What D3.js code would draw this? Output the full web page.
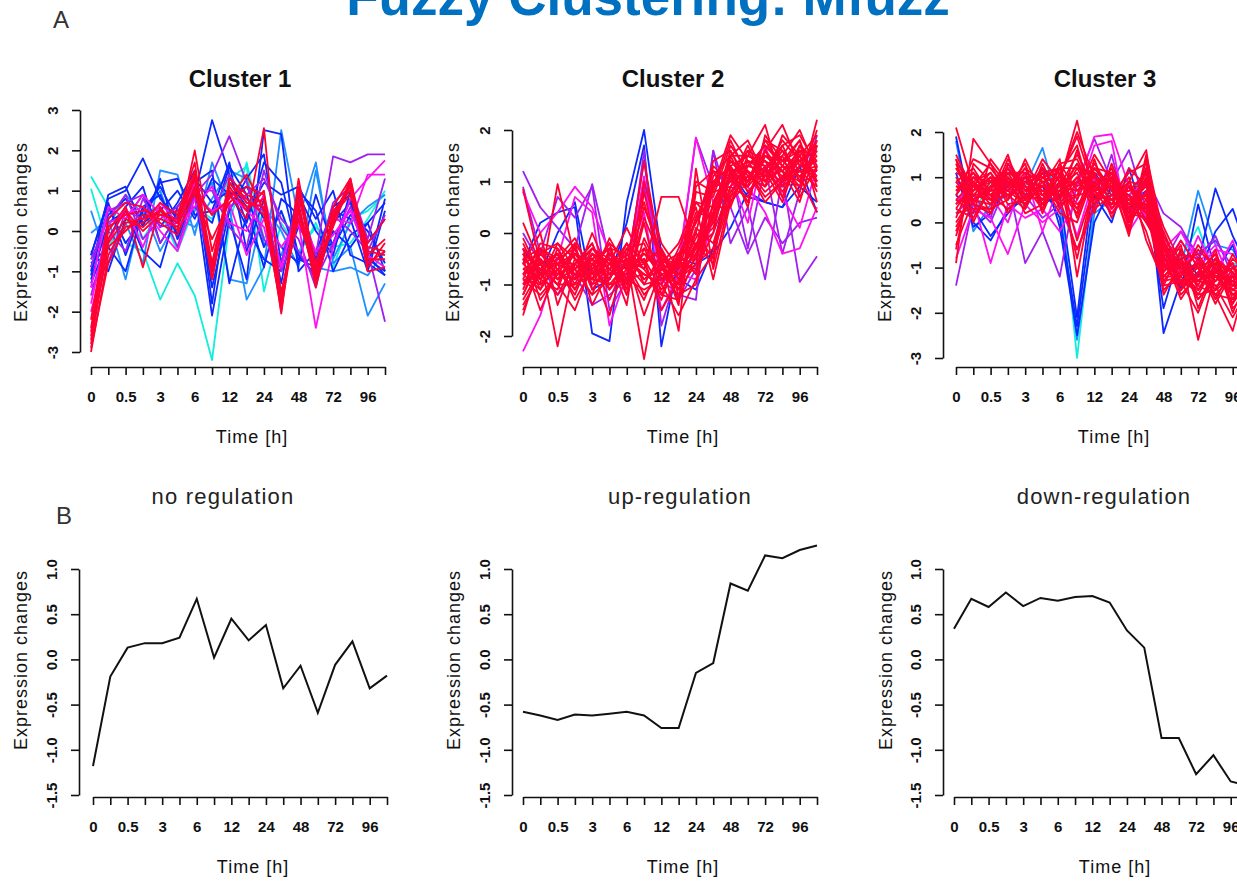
<!DOCTYPE html>
<html>
<head>
<meta charset="utf-8">
<script src="https://cdn.jsdelivr.net/npm/d3@7"></script>
<style>
  body { margin: 0; background: #fff; }
  svg { display: block; font-family: "Liberation Sans", Arial, sans-serif; }
  .axis path, .axis line { stroke: #111; stroke-width: 1.6; }
  .axis text { font-size: 15px; fill: #111; font-weight: bold; font-family: "Liberation Sans", Arial, sans-serif; }
  .profile { fill: none; stroke-width: 1.8; stroke-linejoin: round; }
  .centroid { fill: none; stroke: #111; stroke-width: 2; }
  .axis-title { font-size: 18px; fill: #111; letter-spacing: 1px; }
</style>
</head>
<body>
<svg id="chart" width="1237" height="882"></svg>
<script>
// tick labels, only every other time point is labelled in the original
const timeLabels = ["0", "", "0.5", "", "3", "", "6", "", "12", "", "24", "", "48", "", "72", "", "96", ""];

const clusterTitles = ["Cluster 1", "Cluster 2", "Cluster 3"];
const centroidTitles = ["no regulation", "up-regulation", "down-regulation"];

// membership -> colour (cyan = weak member, red = strong member)
const membershipLevels = [0.3, 0.4, 0.5, 0.6, 0.7, 0.8];
const membershipColors = ["#10EEDC", "#1E90FF", "#0A28FF", "#A020F0", "#FF10F0", "#FF0033"];

const cluster1Membership = [0.3, 0.3, 0.4, 0.4, 0.4, 0.5, 0.5, 0.5, 0.5, 0.5, 0.5, 0.6, 0.6, 0.6, 0.6, 0.7, 0.7, 0.7, 0.8, 0.8, 0.8, 0.8, 0.8, 0.8, 0.8, 0.8, 0.5, 0.5, 0.5];
const cluster1Profiles = [
  [1.35, 0.6, -0.3, -0.5, -1.7, -0.8, -1.6, -3.2, 0.2, 1.7, -0.2, 0.5, -0.6, 0.2, -0.9, 0.3, 0.5, 0.9],
  [1.05, -0.4, 0.3, -0.2, 0.5, -0.5, 0.6, 0.3, 1.3, 1.6, -1.5, 0.2, -0.5, 0.1, -0.4, -0.3, 0.3, 1.0],
  [0.5, -0.8, 0.2, -0.8, 1.5, 1.4, -0.1, 1.7, 0.6, -1.7, -0.9, 2.5, 0.3, 1.7, -0.8, -0.4, -2.1, -1.3],
  [-0.05, 0.3, -1.2, 0.6, -0.5, 0.3, 0.1, 0.8, 1.5, 1.3, -0.3, -0.6, 0.6, -0.9, -1.0, -0.9, -1.1, -0.5],
  [-0.7, 0.1, 0.9, 0.4, 1.0, -0.2, 0.5, 1.2, -1.2, -1.3, 0.6, 0.0, -0.9, 1.5, -0.7, 0.2, 0.6, 0.9],
  [-0.6, 0.8, 1.0, 1.8, 0.8, 0.3, 1.3, 0.7, 1.0, 0.1, -0.7, -1.0, 0.1, -0.5, -0.3, 0.8, -0.7, -1.0],
  [-1.0, 0.9, 1.1, 0.1, 1.3, -0.2, 0.9, 2.75, 1.4, 0.2, 1.7, 1.2, -0.6, -1.1, 0.0, -0.4, 0.2, 0.7],
  [-0.8, -0.4, -1.0, 0.5, 1.1, 0.3, 1.0, -2.1, 0.3, -1.2, 2.5, 2.4, -1.0, -0.5, 0.5, 0.3, -1.0, 0.5],
  [-1.2, 0.2, 0.5, -0.5, -0.9, 0.6, 1.2, 1.5, -1.3, 0.4, 1.2, 0.9, 1.1, 0.3, 1.0, -0.6, -0.8, -1.1],
  [-0.5, -1.0, 0.3, 0.9, 0.1, 0.7, 1.5, -1.8, 1.2, 0.6, -0.9, 0.8, 0.4, -0.7, 0.6, 0.9, -0.9, 0.8],
  [-1.1, 0.6, -0.3, 0.3, 1.2, 1.3, 0.4, 0.5, 1.7, -0.5, 0.8, -1.3, 1.0, 0.5, -1.0, -0.1, 0.2, -1.0],
  [-0.9, 0.5, 0.7, 0.9, -0.3, 0.4, 0.9, 1.4, 2.35, 1.2, -0.2, -0.8, 0.8, -0.6, 1.85, 1.7, 1.9, 1.9],
  [-1.4, -0.8, 0.5, 0.3, 0.6, -0.4, 1.0, 1.0, 0.1, -0.4, 1.5, 0.1, -0.5, -1.2, -0.3, 0.6, -0.5, -2.25],
  [-0.7, 0.3, 0.9, -0.2, 0.3, 0.6, 1.1, 0.4, 1.4, 0.7, 0.5, -1.0, 0.2, -0.8, 0.7, 1.1, -0.2, 1.3],
  [-1.6, 0.0, -0.5, 0.8, 0.1, 0.2, 0.8, -1.0, 0.6, 0.9, 1.3, 0.3, -0.2, -1.4, 0.4, 0.0, -0.5, 0.4],
  [-1.8, 0.2, 0.4, 0.6, 0.0, -0.5, 0.8, 0.5, 0.7, -0.6, 0.3, -0.4, 0.2, -2.4, -0.4, 0.8, 1.3, 1.75],
  [-1.4, 0.6, 0.3, 0.9, 0.4, 0.1, 0.6, 1.1, 0.2, 0.0, 0.9, -0.9, 0.6, -1.1, 0.3, 0.2, 1.4, 1.4],
  [-2.0, -0.3, 0.6, -0.4, 0.7, 0.2, 1.2, -0.8, 0.9, 0.5, 0.1, -1.6, 0.4, -0.5, -0.1, 0.5, -0.6, -0.9],
  [-3.0, -0.6, 0.2, 0.3, 0.5, 0.2, 1.3, -1.2, 1.0, 0.6, 0.8, -1.9, 1.0, -1.2, 0.4, 1.2, -0.8, -0.5],
  [-2.8, -0.2, 0.5, 0.0, 0.4, 0.3, 1.5, -0.8, 1.2, 0.7, 0.6, -2.0, 1.3, -1.0, 0.3, 1.1, -0.5, -0.6],
  [-2.5, 0.0, 0.6, -0.9, 0.6, 0.0, 2.0, -0.5, 0.9, 0.3, 2.55, -1.7, 0.5, -1.3, 0.2, 1.3, -0.9, -0.3],
  [-2.6, -0.4, 0.0, 0.4, 0.3, 0.1, 1.1, -1.0, 1.3, 0.9, 0.7, -1.8, 0.9, -0.8, 0.5, 1.0, -0.3, 0.3],
  [-2.2, 0.3, 0.7, 0.6, 0.2, -0.1, 1.0, 0.4, 0.8, 1.4, 0.5, -1.5, 0.3, -1.1, 0.1, 1.2, -1.0, -0.9],
  [-2.9, -0.8, 0.1, 0.2, 0.7, 0.4, 1.7, -1.2, 1.1, 0.5, 1.0, -2.05, 1.1, -0.9, 0.6, 1.3, -0.6, -0.2],
  [-2.4, 0.1, 0.4, 0.5, 0.4, 0.5, 0.9, -0.2, 0.7, 1.1, 0.9, -1.6, 0.7, -1.4, 0.4, 0.9, -0.7, -0.7],
  [-2.7, -0.3, 0.3, 0.1, 0.5, 0.2, 1.4, -0.9, 1.2, 0.8, 0.4, -1.9, 0.6, -1.2, 0.3, 1.15, -0.4, -0.5],
  [-0.9, 0.4, 0.8, 0.2, 0.5, 1.0, 0.3, 1.3, 0.9, 1.1, 0.3, -0.4, -0.8, 0.9, -0.4, 0.4, 0.0, -0.8],
  [-1.3, -0.2, 0.6, 1.1, -0.3, 0.4, 0.6, 0.2, 1.6, 0.9, -0.4, 0.5, -0.7, -0.9, 0.2, 0.7, -0.6, -1.1],
  [-0.6, 0.7, -0.6, 0.6, 0.9, -0.1, 1.1, -1.4, 0.5, 1.3, 1.9, -0.8, 0.9, 0.0, -0.6, 1.0, -0.3, 0.3]
];

const cluster2Membership = [0.5, 0.5, 0.6, 0.6, 0.6, 0.7, 0.7, 0.8, 0.8, 0.8, 0.8, 0.8, 0.8, 0.8, 0.8, 0.8, 0.8, 0.8, 0.8, 0.8, 0.8, 0.8, 0.8, 0.8, 0.8, 0.8, 0.8, 0.8, 0.8, 0.8, 0.8, 0.8, 0.8, 0.8, 0.8, 0.8, 0.8, 0.8, 0.8];
const cluster2Profiles = [
  [-0.6, 0.2, 0.4, 0.5, -1.95, -2.1, 0.6, 2.0, -0.4, -0.9, -1.1, -0.3, 1.2, 0.7, 0.6, 0.5, 1.3, 0.4],
  [-0.3, -0.8, 0.0, 0.6, -1.1, -0.9, 0.2, 1.7, -2.2, -0.5, -0.6, -0.4, 0.1, 0.8, 0.6, 0.5, 0.9, 0.6],
  [1.2, 0.5, 0.1, -0.3, 0.95, -0.5, -0.7, 1.4, -0.9, -1.2, -1.3, 1.6, -0.2, 0.5, -0.9, 1.1, -0.95, -0.45],
  [0.9, -0.4, 0.7, 0.3, 0.9, -1.5, -0.9, 1.6, -1.8, -0.7, 1.85, 0.9, 1.3, -0.3, 1.3, -0.4, 0.8, 1.9],
  [0.0, -0.6, -1.2, -0.8, -1.4, -1.2, -0.9, 0.9, -0.6, -1.3, -0.7, 1.6, 0.5, -0.4, 0.3, -0.2, 0.2, 0.3],
  [-2.3, -1.6, -0.5, 0.7, 0.4, -1.8, -0.8, 1.1, -1.0, -0.6, 1.85, 0.6, 1.1, 0.2, 1.7, 0.7, 0.1, 1.3],
  [0.8, 0.0, 0.4, 0.9, 0.5, -0.4, -0.6, 0.4, -1.5, -0.8, -0.9, 0.3, 1.2, 0.9, 0.4, -0.4, -0.3, 0.5],
  [-0.5, -0.8, -0.6, -0.4, -0.7, -0.5, -0.6, -0.3, -0.9, -0.8, -0.2, 0.1, 1.2, 1.0, 1.5, 1.4, 1.6, 1.5],
  [-0.8, -0.3, -0.9, -0.7, -0.5, -0.8, -0.4, -0.9, -0.7, -1.0, 0.1, -0.2, 0.9, 1.3, 1.2, 1.0, 1.4, 1.7],
  [0.85, -0.6, -0.4, -1.0, -0.3, -0.6, -0.9, -0.5, -1.1, -0.6, -0.5, 0.4, 1.5, 0.8, 1.1, 1.6, 1.2, 1.3],
  [-1.2, -0.5, -2.2, -0.6, -0.9, -0.4, -0.7, 1.4, -0.5, -1.9, 1.25, -0.7, 0.7, 1.1, 1.4, 1.2, 1.0, 1.1],
  [-0.4, -1.0, 0.95, -0.5, -0.8, -0.2, -0.5, -2.45, -0.6, -0.4, -0.8, 0.9, 1.9, 1.4, 0.9, 1.3, 1.8, 0.6],
  [-0.6, -0.4, -0.7, -1.2, -0.4, -0.9, -0.3, -0.7, 0.7, 0.7, -0.3, 0.2, 1.1, 0.6, 1.6, 2.1, 1.3, 1.4],
  [-1.5, -0.7, -0.5, -0.3, -1.1, -0.6, -0.8, -0.4, -0.8, -0.7, 0.3, 1.0, 1.3, 1.5, 2.1, 0.9, 1.5, 1.9],
  [-0.3, -1.3, -0.8, -0.6, -0.2, -1.0, -0.6, -1.0, -0.4, -0.9, -0.6, -0.3, 0.8, 1.2, 0.8, 1.1, 0.9, 2.2],
  [-0.9, -0.2, -0.3, -0.9, -0.6, -0.3, -1.1, 0.2, -1.2, -0.5, 0.0, 1.4, 1.6, 0.9, 1.3, 0.7, 1.7, 1.0],
  [-0.7, -0.9, -1.1, -0.2, -1.4, -0.7, -0.2, -0.6, -0.3, -1.2, -1.0, 0.6, 1.0, 1.7, 1.0, 1.5, 2.0, 1.2],
  [0.2, -0.6, -0.6, -0.8, -0.5, -1.3, -0.5, -0.8, -1.0, -0.3, 0.5, -0.9, 0.6, 1.3, 1.7, 1.3, 1.1, 0.4],
  [-1.0, -0.4, -0.2, -0.7, -0.3, -0.5, -1.4, 0.8, -0.7, -0.8, -0.4, 0.3, 1.4, 1.0, 1.2, 1.8, 1.4, 1.6],
  [-0.5, -1.5, -0.7, -0.4, -0.9, -0.1, -0.7, -1.3, -0.5, -1.4, 0.8, 0.7, 1.7, 1.2, 0.6, 1.0, 1.2, 0.9],
  [-1.3, -0.7, -1.0, -1.5, -0.6, -0.9, -0.3, -0.2, -0.9, -0.6, -0.7, 0.0, 0.9, 0.7, 1.5, 1.2, 0.8, 1.8],
  [-0.2, -0.9, -0.5, -0.1, -0.8, -0.6, 0.1, -0.6, -1.3, -0.4, 0.2, 1.2, 1.1, 1.6, 1.0, 1.7, 1.9, 1.3],
  [-0.8, -1.1, -0.3, -0.9, 0.0, -0.8, -0.8, 0.5, -0.4, -1.1, -0.2, -0.6, 1.3, 0.5, 1.9, 1.4, 1.1, 1.5],
  [-0.6, 0.0, -1.4, -0.5, -0.7, -1.6, -0.4, -0.9, -0.6, -0.2, 0.6, 0.5, 0.5, 1.4, 1.2, 0.6, 1.6, 1.0],
  [-1.6, -0.5, -0.9, -0.7, -1.2, -0.3, -0.9, -0.5, -1.5, -0.9, -0.5, 1.3, 1.0, 0.9, 1.8, 1.6, 1.0, 2.0],
  [-0.4, -0.7, -0.4, -1.1, -0.4, -0.7, -1.0, 1.0, -0.2, -0.7, 1.0, 0.8, 1.8, 1.1, 0.9, 1.9, 1.5, 0.8],
  [-0.9, -1.2, -0.8, -0.3, -1.0, -0.4, -0.6, -0.8, -1.0, -1.6, -0.9, -0.4, 0.7, 1.5, 1.3, 0.8, 1.3, 1.2],
  [-0.1, -0.8, -1.2, -0.6, -0.2, -1.1, -0.5, -1.6, -0.7, -0.5, 0.4, 0.3, 1.2, 0.6, 1.6, 1.2, 0.6, 1.7],
  [-1.1, -0.3, -0.6, -1.3, -0.7, -0.2, -1.2, -0.1, -0.8, -1.0, -0.3, 1.1, 1.5, 1.8, 1.1, 1.4, 1.8, 0.9],
  [-0.7, -0.5, -0.9, -0.4, -0.6, -1.1, -0.7, -0.4, -0.6, -0.8, -0.1, 0.5, 1.4, 1.2, 1.0, 1.3, 1.2, 1.4],
  [-1.0, -0.8, -0.4, -0.8, -0.9, -0.5, -0.9, -1.1, -0.9, -0.5, 0.2, 0.8, 0.9, 1.6, 1.4, 1.1, 1.5, 1.1],
  [-0.4, -1.1, -0.6, -0.6, -0.3, -0.7, -0.5, -0.7, -1.2, -1.3, -0.4, 0.4, 1.6, 1.0, 1.6, 1.0, 1.3, 1.8],
  [-0.8, -0.6, -1.0, -1.0, -0.8, -0.4, -1.0, 0.3, -0.5, -0.6, 0.6, 0.2, 1.1, 1.4, 1.3, 1.5, 0.7, 1.3],
  [-0.6, -0.9, -0.2, -0.5, -1.0, -0.8, -0.6, -1.2, -0.8, -1.1, -0.6, 1.0, 0.8, 1.1, 1.1, 1.2, 1.6, 1.5],
  [-1.2, -0.4, -0.8, -0.9, -0.4, -0.6, -0.7, -0.6, -0.3, -0.9, 0.0, -0.5, 1.2, 1.3, 1.7, 1.4, 1.4, 1.0],
  [-0.3, -0.7, -1.0, -0.3, -0.9, -1.0, -0.9, -0.8, -1.0, -0.4, -0.8, 0.6, 1.3, 0.8, 1.2, 1.7, 1.0, 1.6],
  [-0.9, -1.0, -0.7, -1.1, -0.5, -0.3, -0.4, 0.6, -0.6, -1.0, 0.3, 0.9, 1.0, 1.2, 0.7, 1.0, 1.7, 1.4],
  [-0.5, -0.3, -0.5, -0.7, -1.2, -0.9, -0.2, -1.0, -0.9, -0.7, -0.3, 0.0, 1.5, 1.5, 1.4, 0.9, 1.2, 1.2],
  [-1.4, -0.8, -0.6, -0.2, -0.7, -0.5, -1.2, -0.3, -0.5, -1.3, 0.9, 1.2, 0.6, 1.0, 1.8, 1.3, 0.9, 1.7]
];

const cluster3Membership = [0.3, 0.4, 0.5, 0.5, 0.5, 0.6, 0.6, 0.7, 0.7, 0.7, 0.8, 0.8, 0.8, 0.8, 0.8, 0.8, 0.8, 0.8, 0.8, 0.8, 0.8, 0.8, 0.8, 0.8, 0.8, 0.8, 0.8, 0.8, 0.8, 0.8, 0.8, 0.8, 0.8, 0.8, 0.8, 0.8, 0.8, 0.8, 0.8, 0.8, 0.8, 0.8];
const cluster3Profiles = [
  [1.0, 0.2, 0.9, 1.1, 0.3, 1.0, 0.8, -3.0, 0.4, 0.7, 0.2, 0.9, -0.5, -0.8, -0.1, -1.2, -0.9, -1.0],
  [1.8, -0.2, 0.4, 0.6, 0.8, 1.65, 0.3, -2.6, 0.2, 0.5, 0.6, 1.1, -0.3, -1.0, 0.7, -0.5, -0.6, -1.3],
  [1.9, 0.0, -0.4, 0.3, 0.5, 1.2, -0.1, -2.5, 0.0, 0.8, 0.2, 1.2, -2.45, -1.3, -0.9, 0.75, -0.3, -1.1],
  [1.1, -0.1, 0.2, 0.8, 1.0, 0.4, 0.6, -2.1, 1.1, 0.6, 0.4, 0.7, -1.9, -0.6, -1.2, -0.2, 0.3, -0.8],
  [0.6, 0.3, -0.3, 0.2, 0.6, 0.8, 0.1, -2.3, 0.6, 0.0, 1.2, 0.0, -0.4, -1.5, 0.4, -1.1, -0.5, -1.6],
  [-1.4, 0.4, 0.0, 0.9, -0.9, -0.2, -1.2, 0.9, 1.85, 0.9, 1.6, 0.3, -0.9, -0.2, -0.7, -0.4, -1.0, -0.8],
  [0.2, 0.6, 0.1, 1.3, 0.6, 0.1, 0.4, -0.6, 0.3, 1.5, 0.0, 1.0, 0.2, -0.1, -0.8, -0.3, -1.2, -1.1],
  [-0.8, 0.3, 0.1, -0.7, 0.4, 0.0, 0.3, 0.8, 1.9, 1.95, 0.8, 0.1, -0.6, -0.2, -0.9, -0.5, -1.4, -0.9],
  [0.9, 0.5, -0.9, 0.4, 0.1, 0.3, -0.2, 0.5, 1.7, 1.8, -0.2, 0.4, -1.1, -0.4, -1.0, -0.6, -0.7, -1.3],
  [0.4, 1.0, 0.6, 0.0, 1.1, -0.2, 0.9, -0.3, 1.0, 0.2, 0.6, 0.9, -0.4, -1.2, -0.3, -1.1, -0.4, -1.6],
  [2.1, 0.8, 0.5, 1.4, 0.7, 1.2, 0.9, 2.25, 0.6, 0.5, 0.9, 1.6, -0.8, -1.0, -1.2, -0.9, -1.5, -1.3],
  [-0.9, 1.85, 1.3, 0.5, 1.0, 0.5, 1.3, 0.7, 1.2, 0.8, 0.4, 0.3, -1.0, -0.7, -2.6, -1.1, -1.3, -1.8],
  [0.5, 0.2, 1.4, 0.9, 0.4, 0.8, 1.4, -1.2, 0.9, 1.1, 0.0, 1.0, -0.5, -1.3, -1.0, -1.6, -2.4, -1.0],
  [0.8, 0.6, 0.7, 1.5, 0.3, 1.3, 0.5, 1.6, 0.4, 0.9, 0.6, -0.2, -1.4, -0.6, -1.5, -0.8, -1.1, -1.6],
  [0.1, 1.0, 0.9, 0.6, 0.8, 0.6, 0.7, 0.2, 1.4, 0.3, 0.8, 0.5, -0.2, -1.1, -0.9, -1.7, -1.0, -1.2],
  [1.3, 0.4, 0.2, 1.1, 1.1, 0.9, 1.0, 1.9, 0.7, 1.2, 0.2, 0.9, -0.9, -1.5, -1.1, -0.7, -1.7, -1.5],
  [-0.3, 0.9, 1.1, 0.4, 0.5, 1.1, 0.3, 0.9, 1.0, 0.6, 1.1, 1.3, -1.2, -0.8, -1.7, -1.3, -0.9, -1.9],
  [0.9, 1.2, 0.6, 0.8, 1.3, 0.2, 1.1, -0.4, 0.8, 0.4, 0.5, 0.0, -0.6, -1.2, -0.6, -1.0, -1.4, -1.1],
  [0.3, 0.1, 0.8, 1.2, 0.6, 0.7, 0.6, 1.3, 0.5, 1.0, -0.1, 0.7, -1.6, -0.9, -1.3, -1.4, -2.1, -1.4],
  [1.5, 0.7, 1.0, 0.2, 0.9, 1.0, 1.2, 0.5, 1.3, 0.7, 0.7, 1.1, -0.4, -1.4, -0.8, -1.2, -1.2, -0.7],
  [-0.5, 0.5, 0.4, 1.0, 0.2, 0.4, 0.8, 1.1, 0.2, 1.3, 0.3, 0.4, -1.1, -0.5, -1.9, -0.9, -1.6, -1.7],
  [0.6, 1.4, 1.2, 0.7, 1.2, 0.9, 0.2, 0.0, 1.1, 0.1, 0.9, 0.8, -0.7, -1.7, -1.1, -1.5, -0.8, -1.2],
  [0.2, 0.3, 0.3, 1.3, 0.8, 0.3, 1.3, 1.4, 0.6, 0.8, -0.2, 1.5, -0.3, -1.0, -1.4, -0.6, -1.9, -1.5],
  [1.1, 0.9, 0.6, 0.3, 0.6, 1.4, 0.9, -0.8, 0.9, 0.5, 1.0, -0.4, -1.3, -0.8, -0.7, -1.3, -1.0, -0.9],
  [-0.1, 0.6, 1.0, 0.9, 1.0, 0.7, 0.4, 0.6, 1.5, 0.9, 0.4, 0.6, -0.8, -1.3, -2.0, -1.0, -1.3, -1.4],
  [0.7, 1.1, 0.5, 0.6, 0.3, 1.0, 1.1, 1.7, 0.3, 0.6, 0.6, 0.2, -1.0, -0.4, -1.0, -1.8, -1.1, -1.8],
  [1.4, 0.0, 0.8, 1.1, 0.9, 0.5, 0.7, 0.3, 1.2, 1.1, 0.1, 1.2, -0.5, -1.6, -1.2, -0.8, -2.0, -1.1],
  [0.4, 0.8, 1.3, 0.8, 0.4, 1.2, 0.6, 1.0, 0.7, 0.2, 0.8, 0.3, -1.5, -1.1, -0.9, -1.2, -1.5, -1.6],
  [0.9, 0.4, 0.3, 0.5, 1.4, 0.6, 1.0, 2.0, 1.0, 0.7, 0.3, 1.0, -0.1, -0.9, -1.6, -1.5, -0.7, -1.3],
  [-0.6, 1.3, 0.9, 1.2, 0.7, 0.8, 0.5, -0.6, 0.4, 1.0, 0.5, 0.6, -1.2, -1.2, -0.5, -1.0, -1.8, -0.8],
  [1.2, 0.5, 0.7, 0.7, 1.1, 0.3, 0.9, 0.4, 0.8, 0.4, 1.2, 0.8, -0.6, -0.6, -1.4, -1.6, -1.2, -2.0],
  [0.5, 0.9, 0.2, 1.0, 0.5, 1.1, 1.2, 1.2, 1.1, 0.9, -0.3, 1.4, -0.9, -1.4, -1.1, -0.7, -1.4, -1.2],
  [0.8, 0.7, 0.9, 0.6, 0.9, 0.8, 0.7, 0.9, 0.6, 0.8, 0.5, 0.6, -1.0, -1.0, -1.3, -1.1, -1.4, -1.5],
  [0.3, 0.9, 0.5, 1.0, 0.6, 0.5, 0.9, 0.3, 0.9, 0.5, 0.2, 0.1, -0.8, -0.9, -1.0, -1.4, -1.3, -1.0],
  [1.0, 0.5, 0.8, 0.7, 0.4, 0.9, 0.5, 1.2, 0.5, 0.6, 0.7, 0.9, -1.3, -1.2, -1.6, -0.9, -1.1, -1.7],
  [0.6, 1.1, 0.7, 0.9, 0.8, 0.6, 1.0, 0.8, 1.0, 0.9, 0.0, 0.5, -0.6, -1.3, -1.2, -1.2, -1.6, -1.3],
  [0.0, 0.6, 1.0, 0.5, 1.0, 1.0, 0.6, 0.6, 0.7, 0.4, 0.9, 0.2, -1.1, -0.7, -0.8, -1.5, -1.2, -1.4],
  [1.2, 0.8, 0.4, 1.2, 0.7, 0.7, 0.8, 1.5, 0.8, 1.0, 0.4, 0.8, -0.4, -1.1, -1.5, -1.0, -1.8, -1.2],
  [0.5, 0.4, 0.9, 0.8, 1.2, 0.4, 1.2, 0.1, 1.2, 0.7, 0.6, 0.4, -0.9, -1.5, -0.9, -1.3, -0.9, -1.8],
  [0.7, 1.0, 0.6, 1.1, 0.5, 1.1, 0.4, 1.0, 0.4, 1.1, 0.3, 1.1, -1.2, -0.8, -1.3, -0.8, -1.5, -1.1],
  [-0.2, 0.7, 1.1, 0.6, 0.9, 0.8, 0.8, 0.7, 0.9, 0.3, 0.8, 0.0, -0.7, -1.0, -1.7, -1.2, -1.0, -1.6],
  [1.4, 0.6, 0.5, 0.9, 0.6, 0.5, 0.7, 1.3, 0.7, 0.8, 0.1, 0.7, -1.4, -1.3, -1.0, -1.6, -1.7, -1.0]
];

// cluster centres (panel B)
const centroidNoRegulation = [-1.18, -0.19, 0.13, 0.18, 0.18, 0.24, 0.67, 0.02, 0.45, 0.21, 0.38, -0.32, -0.07, -0.59, -0.06, 0.20, -0.32, -0.18];
const centroidUpRegulation = [-0.58, -0.62, -0.67, -0.61, -0.62, -0.60, -0.58, -0.62, -0.76, -0.76, -0.15, -0.04, 0.84, 0.76, 1.15, 1.12, 1.21, 1.26];
const centroidDownRegulation = [0.34, 0.67, 0.58, 0.74, 0.59, 0.68, 0.65, 0.69, 0.70, 0.63, 0.32, 0.13, -0.87, -0.87, -1.27, -1.06, -1.35, -1.40];

const clusterTicks = [[-3, -2, -1, 0, 1, 2, 3], [-2, -1, 0, 1, 2], [-3, -2, -1, 0, 1, 2]];
const centroidTicks = [-1.5, -1.0, -0.5, 0.0, 0.5, 1.0];

document.addEventListener('DOMContentLoaded', function() {
    const svg = d3.select("#chart");

    // header
    svg.append("text").attr("x", 648).attr("y", 15).attr("text-anchor", "middle")
        .style("font-size", "53px").style("font-weight", "bold").style("fill", "#0070C0")
        .text("Fuzzy Clustering: Mfuzz");
    svg.append("text").attr("x", 61).attr("y", 28).attr("text-anchor", "middle")
        .style("font-size", "24px").style("fill", "#333").text("A");
    svg.append("text").attr("x", 64).attr("y", 524).attr("text-anchor", "middle")
        .style("font-size", "24px").style("fill", "#333").text("B");

    const topLayout = [
        { axisX: 80, x0: 91, x1: 385, yRange: [352, 110], titleX: 240, timeX: 252, ylabX: 21 },
        { axisX: 512, x0: 523, x1: 817, yRange: [336, 130], titleX: 673, timeX: 683, ylabX: 453 },
        { axisX: 943, x0: 956, x1: 1250, yRange: [358, 132], titleX: 1105, timeX: 1114, ylabX: 885 }
    ];
    const bottomLayout = [
        { axisX: 79, x0: 93, x1: 387, titleX: 223, timeX: 253, ylabX: 21 },
        { axisX: 512, x0: 523, x1: 817, titleX: 680, timeX: 683, ylabX: 454 },
        { axisX: 943, x0: 954, x1: 1248, titleX: 1104, timeX: 1115, ylabX: 886 }
    ];

    const profiles = [cluster1Profiles, cluster2Profiles, cluster3Profiles];
    const memberships = [cluster1Membership, cluster2Membership, cluster3Membership];
    const centroids = [centroidNoRegulation, centroidUpRegulation, centroidDownRegulation];

    const color = d3.scaleLinear().domain(membershipLevels).range(membershipColors).clamp(true);

    topLayout.forEach((p, k) => {
        const ticks = clusterTicks[k];
        const panel = renderPanel(svg, p, {
            axisY: 367, yDomain: [ticks[0], ticks[ticks.length - 1]], yTicks: ticks,
            fmt: d => String(d), titleY: 87, timeY: 443, ylabY: 232
        });
        panel.title.style("font-size", "24px").style("font-weight", "bold").text(clusterTitles[k]);

        // weak members first so the strong (red) ones sit on top
        const order = d3.range(profiles[k].length).sort((a, b) => memberships[k][a] - memberships[k][b]);
        panel.g.selectAll("path.profile")
            .data(order)
            .join("path")
            .attr("class", "profile")
            .attr("stroke", i => color(memberships[k][i]))
            .attr("d", i => panel.line(profiles[k][i]));
    });

    bottomLayout.forEach((p, k) => {
        const panel = renderPanel(svg, { ...p, yRange: [795, 569] }, {
            axisY: 797, yDomain: [-1.5, 1.0], yTicks: centroidTicks,
            fmt: d => d.toFixed(1), titleY: 504, timeY: 873, ylabY: 660
        });
        panel.title.style("font-size", "22px").style("letter-spacing", "1.2px").style("fill", "#222")
            .text(centroidTitles[k]);

        panel.g.append("path")
            .datum(centroids[k])
            .attr("class", "centroid")
            .attr("d", panel.line);
    });
});

function renderPanel(svg, p, o) {
    const g = svg.append("g");

    const x = d3.scaleLinear().domain([0, timeLabels.length - 1]).range([p.x0, p.x1]);
    const y = d3.scaleLinear().domain(o.yDomain).range(p.yRange);

    const xAxis = d3.axisBottom(x)
        .tickValues(d3.range(timeLabels.length))
        .tickFormat(i => timeLabels[i])
        .tickSize(8).tickSizeOuter(0).tickPadding(16);

    g.append("g")
        .attr("class", "axis")
        .attr("transform", "translate(0," + o.axisY + ")")
        .call(xAxis);

    const yAxis = d3.axisLeft(y).tickValues(o.yTicks).tickFormat(o.fmt).tickSize(8).tickSizeOuter(0);

    g.append("g")
        .attr("class", "axis")
        .attr("transform", "translate(" + p.axisX + ",0)")
        .call(yAxis)
        .selectAll("text")
        .attr("x", 0)
        .attr("dy", "0.35em")
        .attr("text-anchor", "middle")
        .attr("transform", "translate(-27,0) rotate(-90)");

    g.append("text")
        .attr("class", "axis-title")
        .attr("x", p.timeX).attr("y", o.timeY)
        .attr("text-anchor", "middle")
        .text("Time [h]");

    g.append("text")
        .attr("class", "axis-title")
        .attr("text-anchor", "middle")
        .attr("dy", "0.35em")
        .attr("transform", "translate(" + p.ylabX + "," + o.ylabY + ") rotate(-90)")
        .text("Expression changes");

    const title = g.append("text")
        .attr("x", p.titleX).attr("y", o.titleY)
        .attr("text-anchor", "middle")
        .style("fill", "#111");

    const line = d3.line().x((d, i) => x(i)).y(d => y(d));

    return { g, x, y, line, title };
}
</script>
</body>
</html>
